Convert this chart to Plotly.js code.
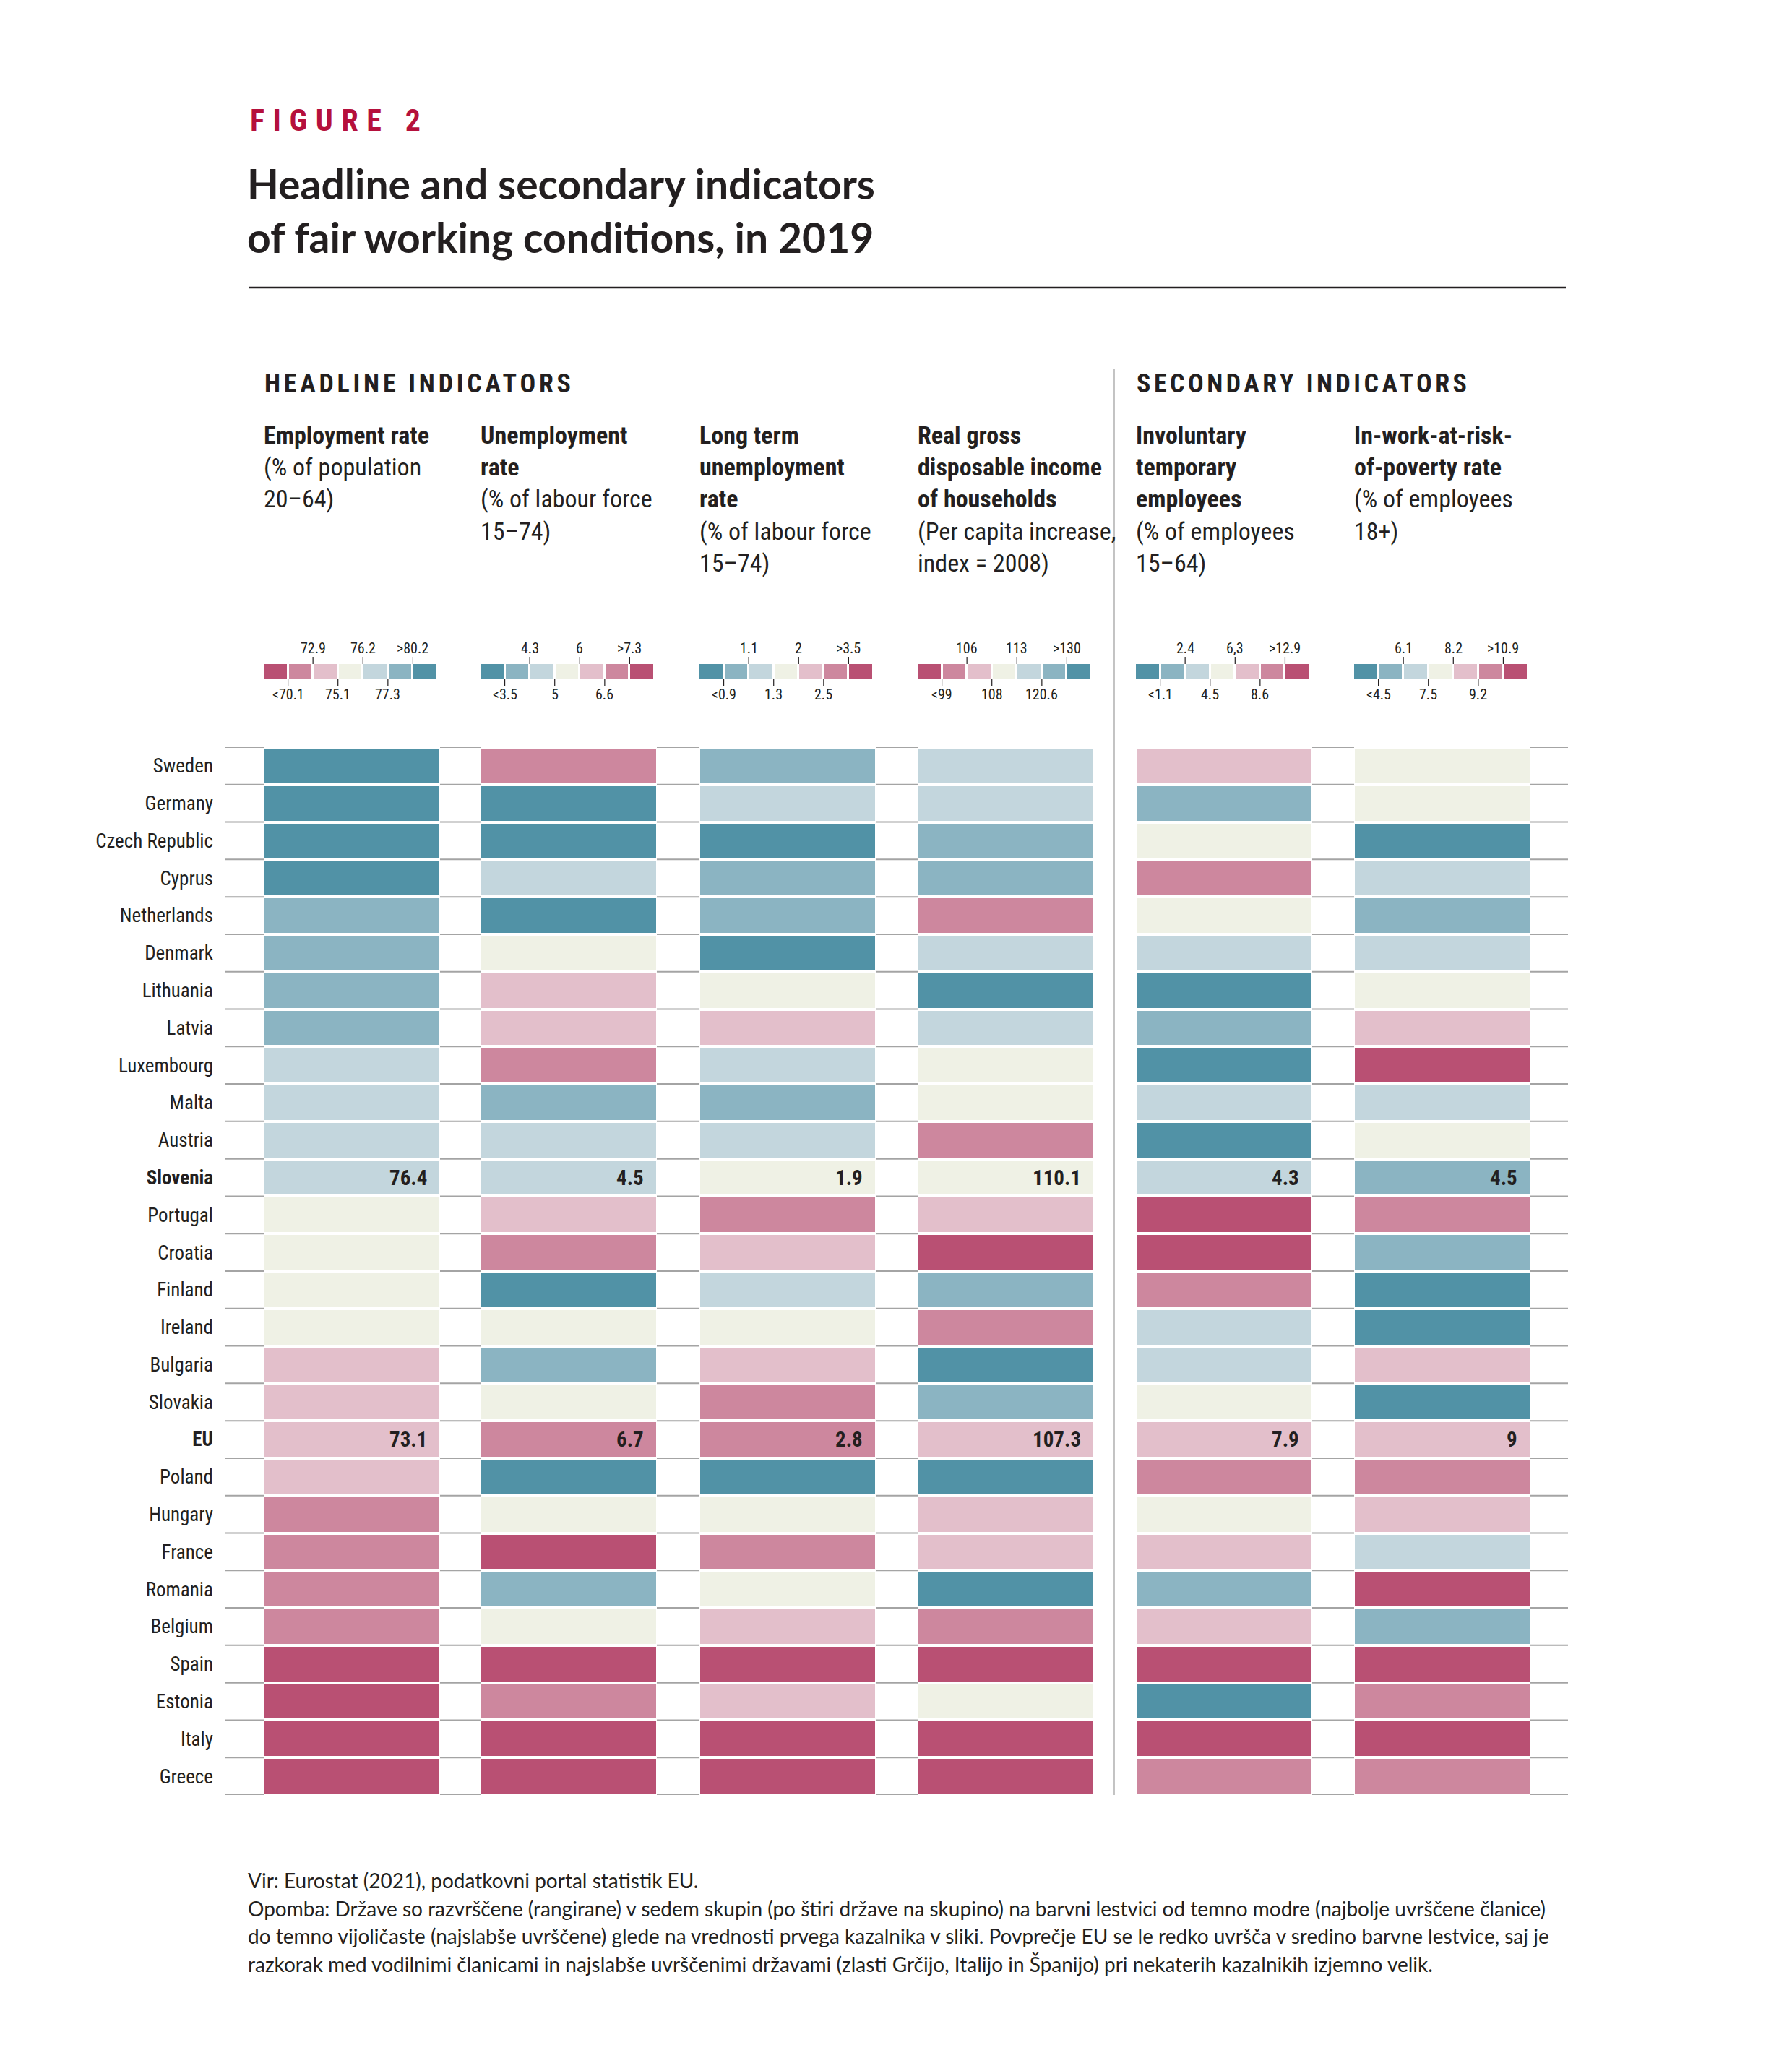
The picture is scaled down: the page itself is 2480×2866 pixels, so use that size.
<!DOCTYPE html>
<html>
<head>
<meta charset="utf-8">
<script src="https://cdn.plot.ly/plotly-3.0.1.min.js"></script>
<style>
html,body{margin:0;padding:0;background:#fff;}
#chart{width:2480px;height:2866px;}
</style>
</head>
<body>
<div id="chart"></div>
<script>
// ---------------- DATA ----------------
const countries = ["Sweden","Germany","Czech Republic","Cyprus","Netherlands","Denmark","Lithuania","Latvia","Luxembourg","Malta","Austria","Slovenia","Portugal","Croatia","Finland","Ireland","Bulgaria","Slovakia","EU","Poland","Hungary","France","Romania","Belgium","Spain","Estonia","Italy","Greece"];
const boldCountries = ["Slovenia","EU"];

const indicators = ["Employment rate","Unemployment rate","Long term unemployment rate","Real gross disposable income of households","Involuntary temporary employees","In-work-at-risk-of-poverty rate"];
const headerTexts = [
  "<b>Employment rate</b><br>(% of population<br>20–64)",
  "<b>Unemployment<br>rate</b><br>(% of labour force<br>15–74)",
  "<b>Long term<br>unemployment<br>rate</b><br>(% of labour force<br>15–74)",
  "<b>Real gross<br>disposable income<br>of households</b><br>(Per capita increase,<br>index = 2008)",
  "<b>Involuntary<br>temporary<br>employees</b><br>(% of employees<br>15–64)",
  "<b>In-work-at-risk-<br>of-poverty rate</b><br>(% of employees<br>18+)"
];

// colour class per country: 1 = best (dark blue) ... 7 = worst (dark purple)
const employmentClass   = [1,1,1,1,2,2,2,2,3,3,3,3,4,4,4,4,5,5,5,5,6,6,6,6,7,7,7,7];
const unemploymentClass = [6,1,1,3,1,4,5,5,6,2,3,3,5,6,1,4,2,4,6,1,4,7,2,4,7,6,7,7];
const longTermClass     = [2,3,1,2,2,1,4,5,3,2,3,4,6,5,3,4,5,6,6,1,4,6,4,5,7,5,7,7];
const incomeClass       = [3,3,2,2,6,3,1,3,4,4,6,4,5,7,2,6,1,2,5,1,5,5,1,6,7,4,7,7];
const involuntaryClass  = [5,2,4,6,4,3,1,2,1,3,1,3,7,7,6,3,3,4,5,6,4,5,2,5,7,1,7,6];
const inWorkPovClass    = [4,4,1,3,2,3,4,5,7,3,4,2,6,2,1,1,5,1,5,6,5,3,7,2,7,6,7,6];
const classData = [employmentClass, unemploymentClass, longTermClass, incomeClass, involuntaryClass, inWorkPovClass];

const sloveniaValues = ["76.4","4.5","1.9","110.1","4.3","4.5"];
const euValues       = ["73.1","6.7","2.8","107.3","7.9","9"];

// legend thresholds (boundaries between the seven colour boxes, low -> high)
const legendEmployment   = ["<70.1","72.9","75.1","76.2","77.3",">80.2"];
const legendUnemployment = ["<3.5","4.3","5","6","6.6",">7.3"];
const legendLongTerm     = ["<0.9","1.1","1.3","2","2.5",">3.5"];
const legendIncome       = ["<99","106","108","113","120.6",">130"];
const legendInvoluntary  = ["<1.1","2.4","4.5","6,3","8.6",">12.9"];
const legendInWorkPov    = ["<4.5","6.1","7.5","8.2","9.2",">10.9"];
const legendLabels = [legendEmployment, legendUnemployment, legendLongTerm, legendIncome, legendInvoluntary, legendInWorkPov];
const higherIsBetter = [true,false,false,true,false,false];

const footerLines = [
  "Vir: Eurostat (2021), podatkovni portal statistik EU.",
  "Opomba: Države so razvrščene (rangirane) v sedem skupin (po štiri države na skupino) na barvni lestvici od temno modre (najbolje uvrščene članice)",
  "do temno vijoličaste (najslabše uvrščene) glede na vrednosti prvega kazalnika v sliki. Povprečje EU se le redko uvršča v sredino barvne lestvice, saj je",
  "razkorak med vodilnimi članicami in najslabše uvrščenimi državami (zlasti Grčijo, Italijo in Španijo) pri nekaterih kazalnikih izjemno velik."
];

// ---------------- FONT PICK (condensed face if available) ----------------
const ctx = document.createElement("canvas").getContext("2d");
function hasFont(name){
  const s = "Employment rate 0123 WMwm";
  let diff = false;
  ["monospace","serif"].forEach(fb => {
    ctx.font = "40px " + fb; const a = ctx.measureText(s).width;
    ctx.font = '40px "' + name + '", ' + fb; const b = ctx.measureText(s).width;
    if (Math.abs(a-b) > 0.5) diff = true;
  });
  return diff;
}
function stretchWorks(name){
  const s = "Employment rate 0123 WMwm";
  ctx.font = '40px "' + name + '"';
  try { ctx.fontStretch = "normal"; } catch(e) {}
  const a = ctx.measureText(s).width;
  try { ctx.fontStretch = "condensed"; } catch(e) { return false; }
  ctx.font = '40px "' + name + '"';
  ctx.fontStretch = "condensed";
  const b = ctx.measureText(s).width;
  ctx.fontStretch = "normal";
  return b < a * 0.95;
}
let COND = null, useStretch = false, condScale = 1;
for (const f of ["Roboto Condensed","Liberation Sans Narrow","Open Sans Condensed","DejaVu Sans Condensed","Noto Sans Condensed","Arial Narrow"]) {
  if (hasFont(f)) { COND = "'" + f + "'"; break; }
}
if (!COND) {
  for (const f of ["Open Sans","Noto Sans","Roboto","DejaVu Sans","Inter"]) {
    if (hasFont(f) && stretchWorks(f)) { COND = "'" + f + "'"; useStretch = true; break; }
  }
}
if (!COND) { COND = "Roboto, 'Liberation Sans', sans-serif"; condScale = 0.86; }
if (useStretch) {
  const st = document.createElement("style");
  st.textContent = "#chart svg text{font-stretch:condensed;}";
  document.head.appendChild(st);
}
const fs = v => Math.round(v * condScale);

// ---------------- STYLE / LAYOUT ----------------
const W = 2480, H = 2866;
const px = v => v / W;
const py = v => 1 - v / H;
const classColors = ["#5192a6","#8bb4c2","#c3d6dd","#eff1e5","#e3bfcb","#cd879e","#b95073"];
const colorscale = [];
classColors.forEach((c,k)=>{ colorscale.push([k/7,c]); colorscale.push([(k+1)/7,c]); });

const SANS = "Lato, 'Open Sans', sans-serif";
const INK = "#231f20";

const colStart = [366,666,969,1271,1573,1875];
const colW = 242;
const gridTop = 1034, gridBottom = 2484;
const idx = countries.map((c,i)=>i);

const traces = [];
const layout = {
  width: W, height: H,
  margin: {l:0,r:0,t:0,b:0},
  paper_bgcolor: "#fff", plot_bgcolor: "rgba(0,0,0,0)",
  showlegend: false,
  title: {
    text: "Headline and secondary indicators<br>of fair working conditions, in 2019",
    x: px(342), xanchor: "left", xref: "paper",
    y: py(276), yanchor: "top", yref: "paper",
    font: {family: SANS, size: 57, color: INK, weight: 700}
  },
  annotations: [], shapes: []
};

const tickText = countries.map(c => boldCountries.includes(c) ? "<b>"+c+"</b>" : c);
layout.yaxis = {
  domain: [py(gridBottom), py(gridTop)], range: [countries.length-0.5, -0.5],
  anchor: "x", side: "left", tickmode: "array", tickvals: idx, ticktext: tickText,
  ticks: "", showgrid: false, zeroline: false, showline: false, ticklabelstandoff: 70,
  tickfont: {family: COND, size: fs(27), color: INK}, fixedrange: true
};
layout.yaxis2 = {
  domain: [py(gridBottom), py(gridTop)], range: [countries.length-0.5, -0.5],
  anchor: "x6", side: "right", overlaying: "y", tickmode: "array", tickvals: idx, ticktext: tickText,
  ticks: "", showgrid: false, zeroline: false, showline: false, ticklabelstandoff: 66,
  tickfont: {family: COND, size: fs(27), color: INK}, fixedrange: true
};
layout.yaxis3 = { domain: [py(940), py(919)], anchor: "x7", visible: false, range: [-0.5,0.5], fixedrange: true };

const sloIdx = countries.indexOf("Slovenia");
const euIdx = countries.indexOf("EU");

classData.forEach((cls, i) => {
  const n = i+1;
  const xa = "xaxis" + (n===1 ? "" : n);
  layout[xa] = { domain: [px(colStart[i]), px(colStart[i]+colW)], anchor: "y", visible: false, range: [-0.5,0.5], fixedrange: true };
  traces.push({
    type: "heatmap", x: [indicators[i]].map((_,k)=>k), y: idx, z: cls.map(v=>[v]),
    xaxis: "x" + (n===1 ? "" : n), yaxis: "y",
    colorscale: colorscale, zmin: 0.5, zmax: 7.5, showscale: false, ygap: 4, hoverinfo: "skip"
  });
  [[sloIdx, sloveniaValues[i]], [euIdx, euValues[i]]].forEach(([r, v]) => {
    layout.annotations.push({
      xref: "x" + (n===1 ? "" : n) + " domain", x: 1, xanchor: "right", xshift: -15,
      yref: "y", y: r, yanchor: "middle", text: "<b>"+v+"</b>", showarrow: false,
      font: {family: COND, size: fs(29), color: INK}
    });
  });
  layout.annotations.push({
    xref: "paper", x: px(colStart[i]-3), xanchor: "left", yref: "paper", y: py(580), yanchor: "top",
    text: headerTexts[i], align: "left", showarrow: false,
    font: {family: COND, size: fs(34), color: INK}
  });
  const lx = "x" + (n+6);
  layout["xaxis" + (n+6)] = { domain: [px(colStart[i]-2), px(colStart[i]+colW-2)], anchor: "y3", visible: false, range: [-0.5,6.5], fixedrange: true };
  const order = higherIsBetter[i] ? [7,6,5,4,3,2,1] : [1,2,3,4,5,6,7];
  traces.push({
    type: "heatmap", x: order.map((_,k)=>k), y: [0], z: [order],
    xaxis: lx, yaxis: "y3", colorscale: colorscale, zmin: 0.5, zmax: 7.5, showscale: false, xgap: 3, hoverinfo: "skip"
  });
  legendLabels[i].forEach((lab, k) => {
    const above = (k % 2 === 1);
    layout.annotations.push({
      xref: lx, x: k+0.5, xanchor: "center", yref: "paper", y: above ? py(897) : py(961), yanchor: "middle",
      text: lab, showarrow: false, font: {family: COND, size: fs(20), color: INK}
    });
    layout.shapes.push({
      type: "line", xref: lx, x0: k+0.5, x1: k+0.5, yref: "paper",
      y0: above ? py(909) : py(940), y1: above ? py(919) : py(950),
      line: {color: INK, width: 1.2}
    });
  });
});

// row separator lines (label area and gaps between columns)
const segs = [[311, colStart[0]]];
for (let i=0;i<5;i++) { if (i !== 3) segs.push([colStart[i]+colW+1, colStart[i+1]-1]); }
segs.push([colStart[5]+colW+1, 2170]);
for (let b=0; b<=countries.length; b++) {
  segs.forEach(([a,c]) => layout.shapes.push({
    type: "line", xref: "paper", x0: px(a), x1: px(c), yref: "y", y0: b-0.5, y1: b-0.5,
    line: {color: "#a4a4a4", width: 2}
  }));
}

layout.shapes.push({type:"line", xref:"paper", yref:"paper", x0:px(344), x1:px(2167), y0:py(398), y1:py(398), line:{color:INK, width:2.5}});
layout.shapes.push({type:"line", xref:"paper", yref:"paper", x0:px(1542), x1:px(1542), y0:py(510), y1:py(2484), line:{color:"#b5b5b5", width:1.6}});

layout.annotations.push({xref:"paper", x:px(344), xanchor:"left", yref:"paper", y:py(166), yanchor:"middle", align:"left",
  text:"<b>FIGURE 2</b>", showarrow:false, font:{family:COND, size:fs(42), color:"#b5103c"}});
layout.annotations.push({xref:"paper", x:px(364), xanchor:"left", yref:"paper", y:py(531), yanchor:"middle", align:"left",
  text:"<b>HEADLINE INDICATORS</b>", showarrow:false, font:{family:COND, size:fs(36), color:INK}});
layout.annotations.push({xref:"paper", x:px(1571), xanchor:"left", yref:"paper", y:py(531), yanchor:"middle", align:"left",
  text:"<b>SECONDARY INDICATORS</b>", showarrow:false, font:{family:COND, size:fs(36), color:INK}});

const footerY = [2602, 2641, 2679, 2718];
footerLines.forEach((t,k) => layout.annotations.push({
  xref:"paper", x:px(341), xanchor:"left", yref:"paper", y:py(footerY[k]), yanchor:"middle",
  text:t, showarrow:false, align:"left", font:{family:SANS, size:28, color:INK}
}));

const spaced = {"FIGURE 2": 236, "HEADLINE INDICATORS": 424, "SECONDARY INDICATORS": 457};

Plotly.newPlot("chart", traces, layout, {staticPlot: true}).then(gd => {
  gd.querySelectorAll("text.annotation-text").forEach(t => {
    const raw = (t.textContent || "").trim();
    if (spaced[raw]) {
      const nat = t.getComputedTextLength();
      const sp = Math.max(0, (spaced[raw] - nat) / (raw.length - 1));
      t.style.letterSpacing = sp + "px";
    }
  });
});
</script>
</body>
</html>
